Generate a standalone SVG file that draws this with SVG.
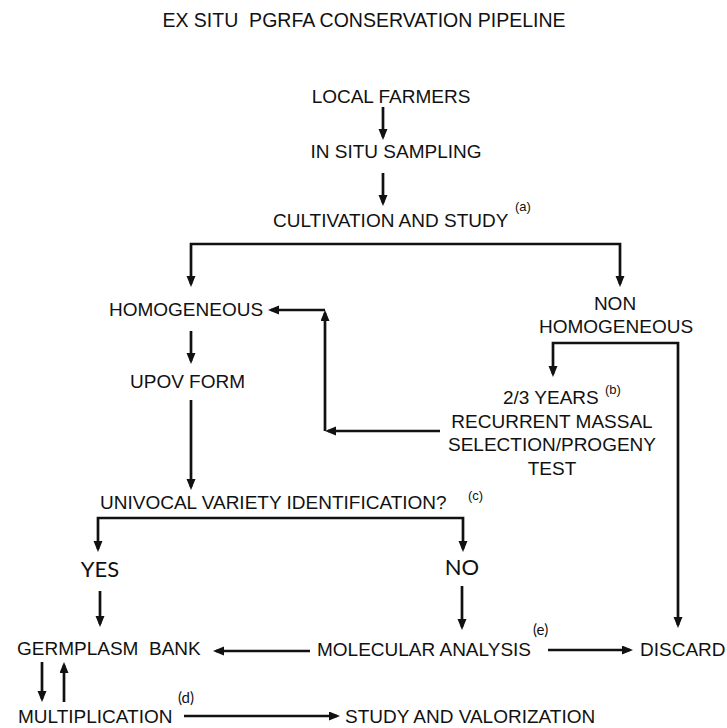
<svg xmlns="http://www.w3.org/2000/svg" width="727" height="728" viewBox="0 0 727 728">
<style>
text{font-family:"Liberation Sans",Arial,sans-serif;font-size:19px;fill:#111;white-space:pre}
.c{text-anchor:middle}
.sup{font-size:13px}
.cal{font-family:Lato,"Open Sans",sans-serif}
.conn path{fill:none;stroke:#111;stroke-width:2.7;marker-end:url(#ah)}
</style>
<defs>
<marker id="ah" markerUnits="userSpaceOnUse" markerWidth="12" markerHeight="10" refX="8" refY="4.5" orient="auto">
<path d="M0,0 L11,4.5 L0,9 z" fill="#111"/>
</marker>
</defs>
<rect width="727" height="728" fill="#fff"/>
<text id="title" class="c" x="364" y="27" style="font-size:19.5px">EX SITU  PGRFA CONSERVATION PIPELINE</text>
<g id="local-farmers"><text class="c" x="391" y="103">LOCAL FARMERS</text></g>
<g id="in-situ-sampling"><text class="c" x="396" y="158">IN SITU SAMPLING</text></g>
<g id="cultivation"><text x="273" y="227">CULTIVATION AND STUDY</text><text class="sup" x="515" y="211">(a)</text></g>
<g id="homogeneous"><text class="c" x="186" y="316">HOMOGENEOUS</text></g>
<g id="upov"><text x="130" y="388">UPOV FORM</text></g>
<g id="non-homogeneous"><text class="c" x="615" y="310">NON</text><text class="c" x="616" y="333">HOMOGENEOUS</text></g>
<g id="recurrent"><text x="503" y="404">2/3 YEARS</text><text class="sup" x="605" y="394">(b)</text><text class="c" x="552" y="428">RECURRENT MASSAL</text><text class="c" x="552" y="451">SELECTION/PROGENY</text><text class="c" x="552" y="475">TEST</text></g>
<g id="univocal"><text x="100" y="509">UNIVOCAL VARIETY IDENTIFICATION?</text><text class="sup" x="468" y="500">(c)</text></g>
<g id="yes"><text class="c cal" x="100" y="577" style="font-size:22px">YES</text></g>
<g id="no"><text class="c cal" x="462" y="575" style="font-size:22px">NO</text></g>
<g id="germplasm"><text x="17" y="655">GERMPLASM  BANK</text></g>
<g id="molecular"><text x="317" y="656">MOLECULAR ANALYSIS</text><text class="cal" x="533" y="635" style="font-size:15px">(e)</text></g>
<g id="discard"><text x="640" y="656">DISCARD</text></g>
<g id="multiplication"><text x="18" y="723">MULTIPLICATION</text><text class="cal" x="178" y="703" style="font-size:15px">(d)</text></g>
<g id="study"><text x="345" y="723">STUDY AND VALORIZATION</text></g>
<g id="connectors" class="conn">
<path d="M383,107 V137"/>
<path d="M383,173 V203"/>
<path d="M405,244 H191 V284"/>
<path d="M405,244 H620 V284"/>
<path d="M191,331 V361"/>
<path d="M191,400 V487"/>
<path d="M280,518 H98 V549"/>
<path d="M280,518 H463 V549"/>
<path d="M615,343 H553 V374"/>
<path d="M615,343 H678 V625"/>
<path d="M440,431 H328"/>
<path d="M325,431 V313"/>
<path d="M325,310 H271"/>
<path d="M100,591 V624"/>
<path d="M462,586 V627"/>
<path d="M310,651 H216"/>
<path d="M548,650 H630"/>
<path d="M42,662 V699"/>
<path d="M64,702 V665"/>
<path d="M184,716 H337"/>
</g>
</svg>
